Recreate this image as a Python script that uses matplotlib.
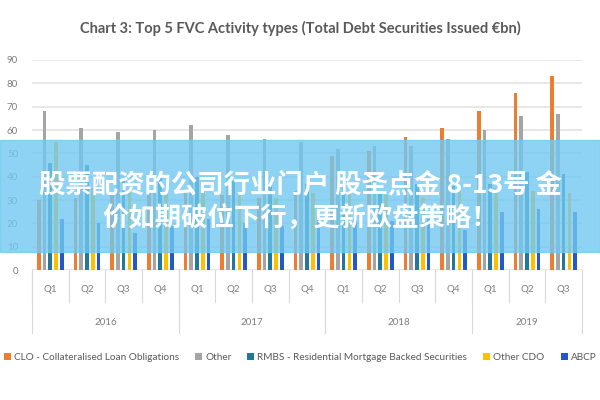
import numpy as np
import matplotlib
matplotlib.use("Agg")
import matplotlib.pyplot as plt
from matplotlib.patches import Rectangle

quarters = ["Q1", "Q2", "Q3", "Q4", "Q1", "Q2", "Q3", "Q4",
            "Q1", "Q2", "Q3", "Q4", "Q1", "Q2", "Q3"]
years = ["2016", "2017", "2018", "2019"]
year_sizes = [4, 4, 4, 3]

clo = [30, 31, 32, 33, 33, 32, 31, 34, 49, 51, 57, 61, 68, 76, 83]
other = [68, 61, 59, 60, 62, 58, 56, 55, 52, 53, 53, 56, 60, 66, 67]
rmbs = [46, 45, 38, 40, 40, 38, 36, 37, 36, 34, 37, 36, 37, 42, 41]
other_cdo = [55, 35, 35, 34, 34, 34, 31, 33, 33, 32, 31, 34, 35, 34, 33]
abcp = [22, 20, 16, 19, 22, 20, 19, 23, 22, 21, 22, 17, 25, 26, 25]

series = [
    ("CLO - Collateralised Loan Obligations", clo, "#ED7D31"),
    ("Other", other, "#A5A5A5"),
    ("RMBS - Residential Mortgage Backed Securities", rmbs, "#22779A"),
    ("Other CDO", other_cdo, "#FFC000"),
    ("ABCP", abcp, "#2458C6"),
]

FONT = "Lato"

fig = plt.figure(figsize=(6, 4), dpi=100)
ax = fig.add_axes([0.0533, 0.325, 0.9167, 0.525])

x = np.arange(len(quarters))
step = 0.157
for k, (name, vals, col) in enumerate(series):
    ax.bar(x + (k - 2) * step, vals, width=0.1, color=col, label=name, zorder=3)

ax.set_xlim(-0.5, len(quarters) - 0.5)
ax.set_ylim(0, 90)
ax.set_yticks(range(0, 91, 10))
ax.yaxis.grid(True, color="#E3E3E3", linewidth=1.2, zorder=0)
ax.tick_params(axis="y", length=0, labelsize=7, labelcolor="#7F7F7F", pad=10)
for lab in ax.get_yticklabels():
    lab.set_family(FONT)
ax.set_xticks([])
for s in ax.spines.values():
    s.set_visible(False)

# multi-level category axis
tr = ax.get_xaxis_transform()
sep = "#D9D9D9"
for i, q in enumerate(quarters):
    ax.text(i, -0.095, q, transform=tr, ha="center", va="center",
            fontsize=7, color="#7F7F7F", family=FONT)
    ax.plot([i - 0.5, i - 0.5], [0, -0.15], transform=tr, color=sep,
            lw=0.8, clip_on=False)
start = 0
for yr, n in zip(years, year_sizes):
    ax.text(start + (n - 1) / 2, -0.25, yr, transform=tr, ha="center",
            va="center", fontsize=7, color="#7F7F7F", family=FONT)
    ax.plot([start - 0.5, start - 0.5], [0, -0.3], transform=tr, color=sep,
            lw=0.8, clip_on=False)
    start += n
ax.plot([start - 0.5, start - 0.5], [0, -0.3], transform=tr, color=sep,
        lw=0.8, clip_on=False)

fig.text(0.5, 0.93, "Chart 3: Top 5 FVC Activity types (Total Debt Securities Issued \u20acbn)",
         ha="center", va="center", fontsize=10.5, color="#595959",
         family=FONT, weight="bold")

leg = fig.legend(loc="center", bbox_to_anchor=(0.5, 0.107), ncol=5,
                 frameon=False, handlelength=0.7, handleheight=0.7,
                 handletextpad=0.3, columnspacing=1.6,
                 prop={"family": FONT, "size": 7.2})
for t in leg.get_texts():
    t.set_color("#595959")

# overlay banner
fig.patches.append(Rectangle((0, 1 - 252 / 400), 1, 112 / 400,
                             transform=fig.transFigure, color="#72C8F0",
                             alpha=0.8, zorder=10))
fig.text(0.5, 1 - 185 / 400, "股票配资的公司行业门户 股圣点金 8-13号 金",
         ha="center", va="center", fontsize=19, color="white", weight="bold",
         family=["Noto Sans CJK SC", "DejaVu Sans"], zorder=11)
fig.text(0.5, 1 - 219 / 400, "价如期破位下行，更新欧盘策略！",
         ha="center", va="center", fontsize=19, color="white", weight="bold",
         family=["Noto Sans CJK SC", "DejaVu Sans"], zorder=11)

fig.savefig("out.png", dpi=100)
